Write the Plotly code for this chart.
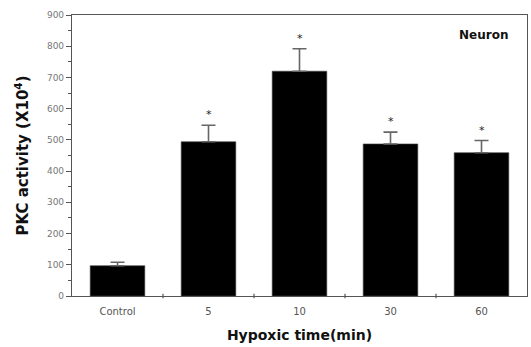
import plotly.graph_objects as go

# PKC activity in neurons after hypoxic exposure
categories = ["Control", "5", "10", "30", "60"]
pkc_activity = [97, 494, 720, 487, 459]
sem_upper = [11, 53, 72, 38, 39]
significant = [False, True, True, True, True]

fig = go.Figure()
fig.add_trace(go.Bar(
    x=categories,
    y=pkc_activity,
    width=0.6,
    marker=dict(color="black", line=dict(color="#444", width=0.6)),
    error_y=dict(type="data", array=sem_upper, arrayminus=[0] * len(sem_upper),
                 symmetric=False, color="#666", thickness=1.6, width=7),
    showlegend=False,
))

# significance markers above the error bars (category index positions)
for i, (val, err, sig) in enumerate(zip(pkc_activity, sem_upper, significant)):
    if sig:
        fig.add_annotation(x=i, y=val + err, xref="x", yref="y", text="*",
                           showarrow=False, yanchor="bottom", yshift=2,
                           font=dict(family="DejaVu Sans", size=11, color="#222"))

fig.add_annotation(x=0.963, y=0.962, xref="paper", yref="paper", text="<b>Neuron</b>",
                   showarrow=False, xanchor="right", yanchor="top",
                   font=dict(family="DejaVu Sans", size=12, color="#111"))

axis_line = dict(showline=True, linecolor="#555", linewidth=1.2, mirror=True)

fig.update_layout(
    width=531, height=347,
    margin=dict(l=72, r=4, t=15, b=51),
    paper_bgcolor="white", plot_bgcolor="white",
    xaxis=dict(
        **axis_line,
        range=[-0.5, 4.5],
        ticks="", showgrid=False, ticklabelstandoff=6,
        tickfont=dict(family="DejaVu Sans", size=10, color="#555"),
        title=dict(text="<b>Hypoxic time(min)</b>", standoff=14,
                   font=dict(family="DejaVu Sans", size=14, color="#111")),
    ),
    yaxis=dict(
        **axis_line,
        range=[0, 900], dtick=100, ticks="outside", ticklen=5,
        tickcolor="#555", tickwidth=1,
        minor=dict(dtick=50, ticks="outside", ticklen=3, tickcolor="#555"),
        showgrid=False, zeroline=False,
        tickfont=dict(family="DejaVu Sans", size=9, color="#777"),
        title=dict(text="<b>PKC activity (X10<sup>4</sup>)</b>", standoff=14,
                   font=dict(family="DejaVu Sans", size=15, color="#111")),
    ),
)

# small ticks on the x axis at the category boundaries
for b in [0.5, 1.5, 2.5, 3.5]:
    fig.add_shape(type="line", x0=b, x1=b, xref="x", yref="paper", y0=-0.008, y1=0.008,
                  line=dict(color="#555", width=1.2))

fig.write_html("out.html")
